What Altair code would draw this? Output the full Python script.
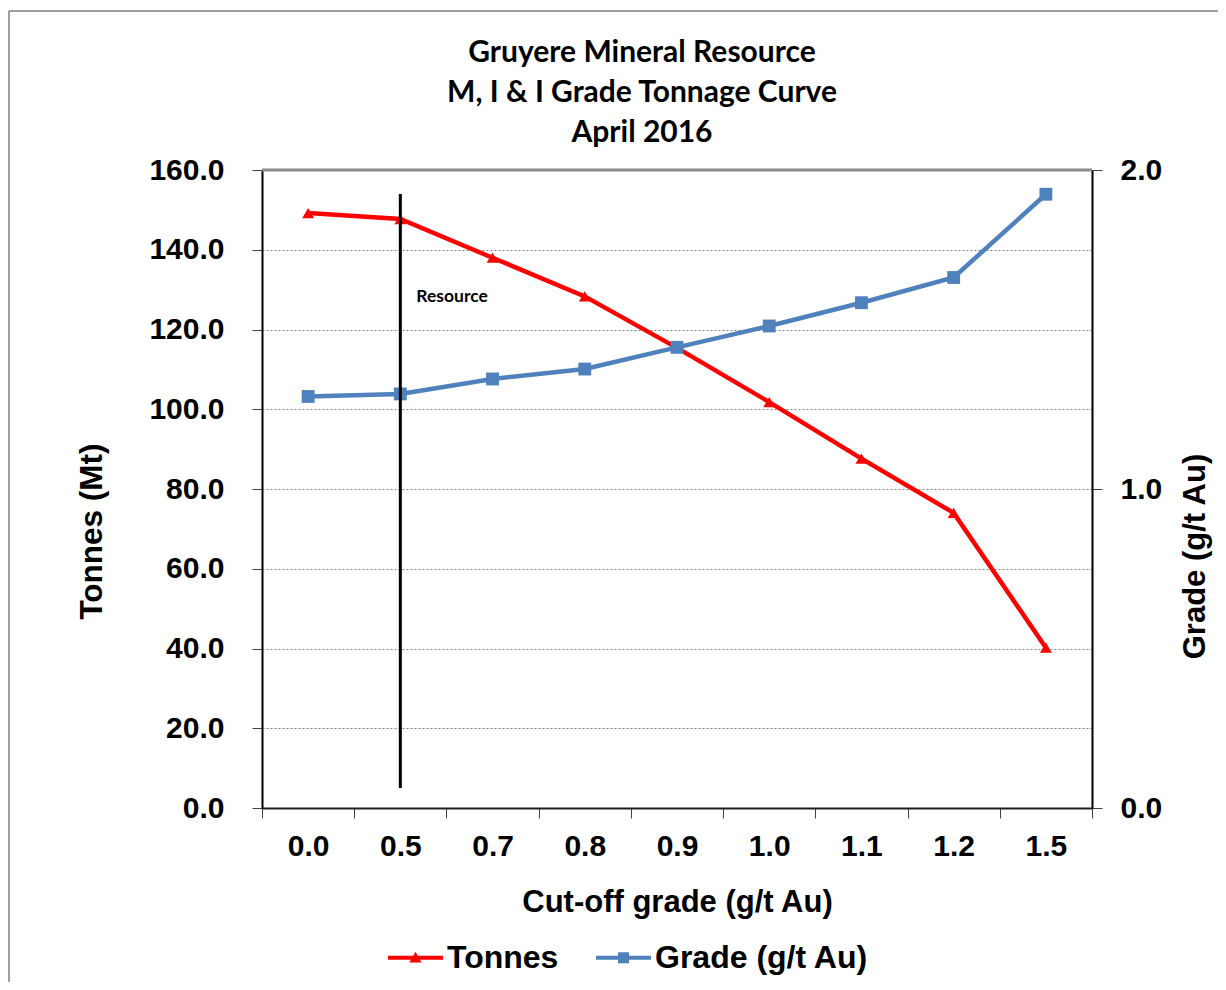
import altair as alt
import pandas as pd

# ---------------- data ----------------
cutoff = ["0.0", "0.5", "0.7", "0.8", "0.9", "1.0", "1.1", "1.2", "1.5"]
tonnes = [149.2, 147.7, 138.0, 128.3, 115.4, 101.8, 87.6, 74.0, 40.2]
grade = [1.290, 1.298, 1.345, 1.376, 1.444, 1.511, 1.584, 1.663, 1.924]
series_names = ["Tonnes", "Grade (g/t Au)"]
series_colors = ["#FF0000", "#4F81BD"]
tonnes_ticks = [0, 20, 40, 60, 80, 100, 120, 140, 160]
grade_ticks = [0, 1, 2]
resource_cutoff = ["0.5"]
resource_top = [154.0]
resource_bottom = [5.0]
resource_label = ["Resource"]
resource_label_y = [128.2]
title_lines = ["Gruyere Mineral Resource", "M, I & I Grade Tonnage Curve", "April 2016"]

AX = "Liberation Sans, Arial, sans-serif"
CAL = "Lato, Open Sans, sans-serif"
W, H = 830, 638

df = pd.DataFrame({"cutoff": cutoff, "tonnes": tonnes, "grade": grade})
df_res = pd.DataFrame({"cutoff": resource_cutoff, "top": resource_top,
                       "bottom": resource_bottom, "label": resource_label,
                       "ly": resource_label_y})
df_leg = pd.DataFrame({"series": series_names})
df_one = pd.DataFrame({"k": [0]})
df_title = pd.DataFrame({"t": ["\n".join(title_lines)]})

x_enc = alt.X(
    "cutoff:N", sort=cutoff,
    scale=alt.Scale(type="band", domain=cutoff, paddingInner=0, paddingOuter=0),
    axis=alt.Axis(title="Cut-off grade (g/t Au)", tickBand="extent", tickSize=10,
                  tickColor="#404040", domainColor="#202020", domainWidth=2,
                  labelAngle=0, labelFont=AX, labelFontSize=30, labelFontWeight="bold",
                  labelColor="black", labelPadding=13, titleFont=AX, titleFontSize=31,
                  titleFontWeight="bold", titleColor="black", titlePadding=26, grid=False),
)

y_t = alt.Y(
    "tonnes:Q", scale=alt.Scale(domain=[0, 160], nice=False),
    axis=alt.Axis(orient="left", values=tonnes_ticks, format=".1f", title="Tonnes (Mt)",
                  tickSize=10, tickColor="#404040", domainColor="black", domainWidth=2,
                  grid=True, gridColor="#7f7f7f", gridDash=[2, 2], gridWidth=1,
                  labelFont=AX, labelFontSize=30, labelFontWeight="bold", labelColor="black",
                  labelPadding=28, titleFont=AX, titleFontSize=31.5, titleFontWeight="bold",
                  titleColor="black", titlePadding=40, titleY=361),
)

y_g = alt.Y(
    "grade:Q", scale=alt.Scale(domain=[0, 2], nice=False),
    axis=alt.Axis(orient="right", values=grade_ticks, format=".1f", title="Grade (g/t Au)",
                  tickSize=10, tickColor="#404040", domainColor="black", domainWidth=2,
                  grid=False, labelFont=AX, labelFontSize=30, labelFontWeight="bold",
                  labelColor="black", labelPadding=18, titleFont=AX, titleFontSize=31,
                  titleFontWeight="bold", titleColor="black", titleAngle=270,
                  titlePadding=50, titleY=386),
)

base = alt.Chart(df)
tonnes_group = alt.layer(
    base.mark_line(color=series_colors[0], strokeWidth=4.5).encode(x=x_enc, y=y_t),
    base.mark_point(shape="triangle-up", filled=True, size=140, opacity=1,
                    color=series_colors[0]).encode(x=x_enc, y=y_t),
)
grade_group = alt.layer(
    base.mark_line(color=series_colors[1], strokeWidth=4.5).encode(x=x_enc, y=y_g),
    base.mark_point(shape="square", filled=True, size=165, opacity=1,
                    color=series_colors[1]).encode(x=x_enc, y=y_g),
)

res_scale = alt.Scale(domain=[0, 160], nice=False)
res_group = alt.layer(
    alt.Chart(df_res).mark_rule(color="black", strokeWidth=3).encode(
        x=x_enc, y=alt.Y("top:Q", scale=res_scale, axis=None), y2="bottom:Q"),
    alt.Chart(df_res).mark_text(align="left", baseline="middle", dx=16, font=CAL,
                                fontSize=17.5, fontWeight="bold", color="black").encode(
        x=x_enc, y=alt.Y("ly:Q", scale=res_scale, axis=None), text="label:N"),
)

path_t = "M-1,-0.07L1,-0.07L1,0.07L-1,0.07Z M-0.22,0.17L0,-0.22L0.22,0.17Z"
path_g = "M-1,-0.07L1,-0.07L1,0.07L-1,0.07Z M-0.2,-0.2L0.2,-0.2L0.2,0.2L-0.2,0.2Z"
leg = alt.Legend(title=None, orient="none", legendX=126, legendY=760,
                 direction="horizontal", symbolSize=3025, symbolStrokeWidth=0,
                 labelFont=AX, labelFontSize=32, labelFontWeight="bold",
                 labelColor="black", labelOffset=4, columnPadding=37, padding=0,
                 labelLimit=400)
legend_layer = alt.Chart(df_leg).transform_filter("false").mark_point(
    filled=True, opacity=1).encode(
    color=alt.Color("series:N", scale=alt.Scale(domain=series_names, range=series_colors),
                    legend=leg),
    shape=alt.Shape("series:N", scale=alt.Scale(domain=series_names, range=[path_t, path_g]),
                    legend=leg),
)

title_layer = alt.Chart(df_title).mark_text(
    align="center", baseline="alphabetic", font=CAL, fontSize=30, fontWeight="bold",
    color="black", lineBreak="\n", lineHeight=40).encode(
    x=alt.value(380), y=alt.value(-108), text="t:N")

plot_top = alt.Chart(df_one).mark_rule(color="#8c8c8c", strokeWidth=3).encode(
    x=alt.value(0), x2=alt.value(W), y=alt.value(0))
frame_top = alt.Chart(df_one).mark_rule(color="#7f7f7f", strokeWidth=1.5).encode(
    x=alt.value(-253), x2=alt.value(960), y=alt.value(-159))
frame_left = alt.Chart(df_one).mark_rule(color="#7f7f7f", strokeWidth=1.5).encode(
    x=alt.value(-253), y=alt.value(-159), y2=alt.value(815))

chart = alt.layer(
    plot_top, tonnes_group, grade_group, res_group, legend_layer, title_layer,
    frame_top, frame_left
).resolve_scale(y="independent").properties(
    width=W, height=H,
    autosize=alt.AutoSizeParams(type="none"),
    padding={"left": 254, "top": 162, "right": 126, "bottom": 174},
).configure_view(stroke=None).configure(background="white")

chart.save("out.html", embed_options={"renderer": "svg", "actions": False})
